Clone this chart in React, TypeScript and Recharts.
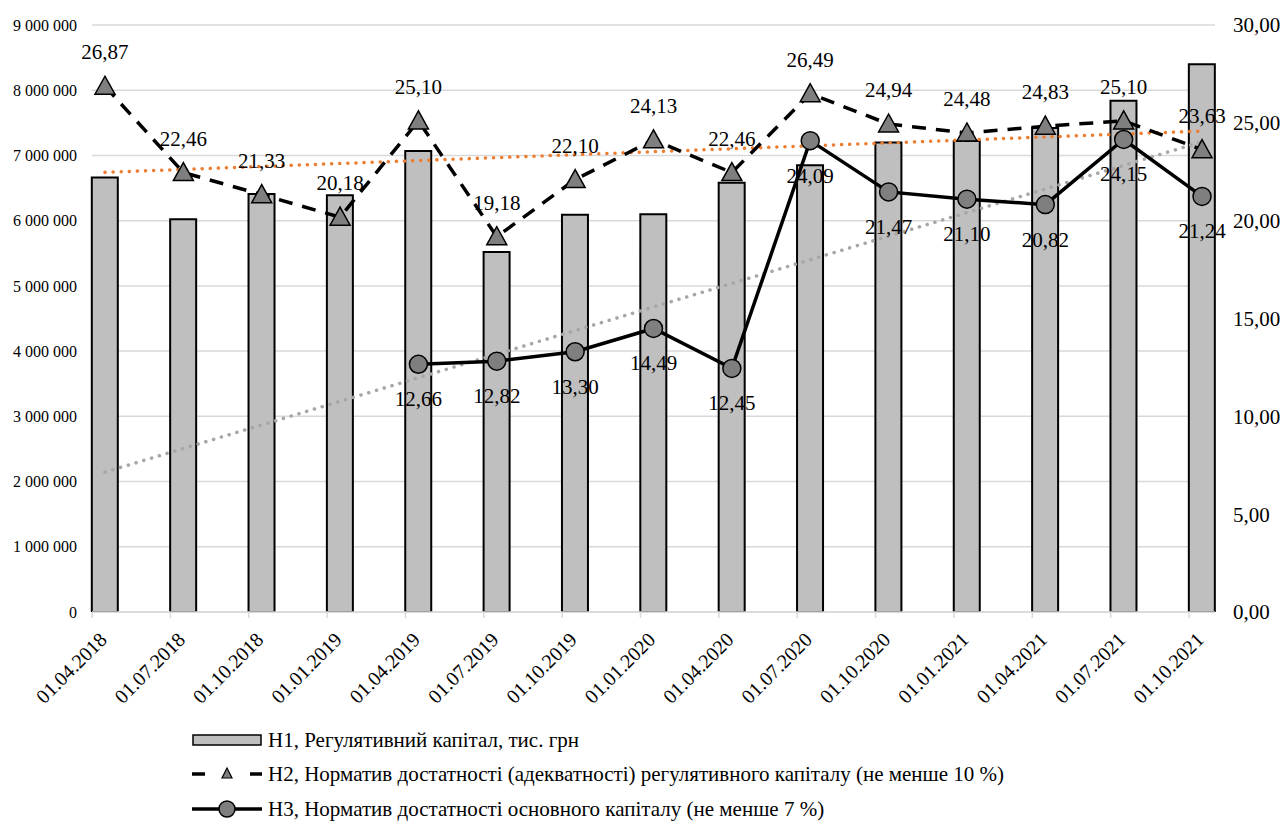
import React from "react";
import {
  ComposedChart, Bar, Line, XAxis, YAxis, CartesianGrid, Legend, LabelList,
} from "recharts";

const FONT = "'Times New Roman', Times, 'Liberation Serif', Tinos, 'Noto Serif', 'DejaVu Serif', FreeSerif, serif";

// quarters
const dates = [
  "01.04.2018", "01.07.2018", "01.10.2018", "01.01.2019", "01.04.2019",
  "01.07.2019", "01.10.2019", "01.01.2020", "01.04.2020", "01.07.2020",
  "01.10.2020", "01.01.2021", "01.04.2021", "01.07.2021", "01.10.2021",
];

// Н1, regulatory capital (thousand UAH)
const h1 = [
  6660000, 6020000, 6410000, 6390000, 7070000,
  5520000, 6090000, 6100000, 6580000, 6850000,
  7200000, 7220000, 7420000, 7840000, 8400000,
];

// Н2, %
const h2 = [
  26.87, 22.46, 21.33, 20.18, 25.10,
  19.18, 22.10, 24.13, 22.46, 26.49,
  24.94, 24.48, 24.83, 25.10, 23.63,
];

// Н3, % (no values before 01.04.2019)
const h3: (number | null)[] = [
  null, null, null, null, 12.66,
  12.82, 13.30, 14.49, 12.45, 24.09,
  21.47, 21.10, 20.82, 24.15, 21.24,
];

// trend lines, end points
const h2Trend: (number | null)[] = [22.47, null, null, null, null, null, null, null, null, null, null, null, null, null, 24.58];
const h3Trend: (number | null)[] = [7.15, null, null, null, null, null, null, null, null, null, null, null, null, null, 24.03];

const leftTicks = [0, 1000000, 2000000, 3000000, 4000000, 5000000, 6000000, 7000000, 8000000, 9000000];
const rightTicks = [0, 5, 10, 15, 20, 25, 30];

const data = dates.map((d, i) => ({
  date: d,
  h1: h1[i],
  h2: h2[i],
  h3: h3[i],
  h2Trend: h2Trend[i],
  h3Trend: h3Trend[i],
}));

const fmtSpace = (n: number) => String(n).replace(/\B(?=(\d{3})+(?!\d))/g, " ");
const fmtComma = (n: number) => n.toFixed(2).replace(".", ",");

const GREY = "#7F7F7F";

function DateTick({ x, y, payload }: any) {
  return (
    <g>
      <line x1={x - 13} x2={x - 13} y1={y} y2={y + 6} stroke="#D9D9D9" strokeWidth={1.5} />
      <text
        x={x + 3}
        y={y + 29}
        textAnchor="end"
        transform={`rotate(-45, ${x + 3}, ${y + 29})`}
        style={{ fontFamily: FONT }}
        fontSize={20}
        fill="#000"
      >
        {payload.value}
      </text>
    </g>
  );
}

function TriangleDot(p: any) {
  if (p.cx == null || p.cy == null || p.value == null) return <g key={p.index} />;
  const { cx, cy } = p;
  return (
    <polygon
      key={p.index}
      points={`${cx},${cy - 10} ${cx - 10},${cy + 8} ${cx + 10},${cy + 8}`}
      fill={GREY}
      stroke="#000"
      strokeWidth={1.5}
    />
  );
}

function CircleDot(p: any) {
  if (p.cx == null || p.cy == null || p.value == null) return <g key={p.index} />;
  return <circle key={p.index} cx={p.cx} cy={p.cy} r={9} fill={GREY} stroke="#000" strokeWidth={1.5} />;
}

function AboveLabel({ x, y, value }: any) {
  if (value == null) return null;
  return (
    <text x={x} y={y - 34} textAnchor="middle" dominantBaseline="central" style={{ fontFamily: FONT }} fontSize={21} fill="#000">
      {fmtComma(value)}
    </text>
  );
}

function BelowLabel({ x, y, value }: any) {
  if (value == null) return null;
  return (
    <text x={x} y={y + 35} textAnchor="middle" dominantBaseline="central" style={{ fontFamily: FONT }} fontSize={21} fill="#000">
      {fmtComma(value)}
    </text>
  );
}

function LegendBox() {
  const row = (top: number, symbol: React.ReactNode, label: string) => (
    <div style={{ position: "absolute", left: 192, top: top - 17, height: 34, display: "flex", alignItems: "center" }}>
      <svg width={70} height={34} style={{ display: "block" }}>{symbol}</svg>
      <span style={{ marginLeft: 6, whiteSpace: "nowrap" }}>{label}</span>
    </div>
  );
  return (
    <div style={{ position: "relative", height: 104, width: 1284, fontFamily: FONT, fontSize: 21, color: "#000" }}>
      {row(20, <rect x={1} y={12} width={68} height={10} fill="#BFBFBF" stroke="#000" strokeWidth={1.5} />,
        "Н1, Регулятивний капітал, тис. грн")}
      {row(54, (
        <g>
          <line x1={0} x2={13} y1={17} y2={17} stroke="#000" strokeWidth={3.5} />
          <polygon points="35,11 30,21 40,21" fill={GREY} stroke="#000" strokeWidth={1.2} />
          <line x1={58} x2={70} y1={17} y2={17} stroke="#000" strokeWidth={3.5} />
        </g>
      ), "Н2, Норматив достатності (адекватності) регулятивного капіталу (не менше 10 %)")}
      {row(89, (
        <g>
          <line x1={0} x2={70} y1={17} y2={17} stroke="#000" strokeWidth={3.5} />
          <circle cx={35} cy={17} r={8} fill={GREY} stroke="#000" strokeWidth={1.5} />
        </g>
      ), "Н3, Норматив достатності основного капіталу (не менше 7 %)")}
    </div>
  );
}

export default function App() {
  return (
    <div style={{ position: "absolute", left: 0, top: 0, background: "#fff", fontFamily: FONT }}>
      <ComposedChart width={1284} height={824} data={data} margin={{ top: 25, right: 0, bottom: 0, left: 0 }} style={{ fontFamily: FONT }}>
        <CartesianGrid yAxisId="left" vertical={false} stroke="#D9D9D9" strokeWidth={1.5} />
        <XAxis
          dataKey="date"
          height={108}
          padding={{ left: -26.2, right: -26.2 }}
          tick={<DateTick />}
          tickLine={false}
          tickSize={0}
          tickMargin={0}
          axisLine={{ stroke: "#D9D9D9", strokeWidth: 1.5 }}
          interval={0}
        />
        <YAxis
          yAxisId="left"
          width={92}
          domain={[0, 9000000]}
          ticks={leftTicks}
          tickFormatter={fmtSpace}
          axisLine={false}
          tickLine={false}
          tickSize={0}
          tickMargin={15}
          tick={{ fontSize: 16, fill: "#000", style: { fontFamily: FONT } }}
          allowDataOverflow
        />
        <YAxis
          yAxisId="right"
          orientation="right"
          width={69}
          domain={[0, 30]}
          ticks={rightTicks}
          tickFormatter={(v: number) => fmtComma(v)}
          axisLine={false}
          tickLine={false}
          tickSize={0}
          tickMargin={18}
          tick={{ fontSize: 21, fill: "#000", textAnchor: "start", style: { fontFamily: FONT } }}
          allowDataOverflow
        />
        <Legend
          verticalAlign="bottom"
          content={() => <LegendBox />}
          wrapperStyle={{ left: 0, bottom: 0, width: 1284, height: 104 }}
        />
        <Bar yAxisId="left" dataKey="h1" barSize={26} fill="#BFBFBF" stroke="#000" strokeWidth={2} isAnimationActive={false} />
        <Line
          yAxisId="right"
          dataKey="h2Trend"
          connectNulls
          stroke="#ED7D31"
          strokeWidth={3.5}
          strokeDasharray="0.1 8"
          strokeLinecap="round"
          dot={false}
          activeDot={false}
          isAnimationActive={false}
        />
        <Line
          yAxisId="right"
          dataKey="h3Trend"
          connectNulls
          stroke="#A6A6A6"
          strokeWidth={3.5}
          strokeDasharray="0.1 8"
          strokeLinecap="round"
          dot={false}
          activeDot={false}
          isAnimationActive={false}
        />
        <Line
          yAxisId="right"
          dataKey="h2"
          stroke="#000"
          strokeWidth={3.5}
          strokeDasharray="14 10"
          dot={TriangleDot}
          activeDot={false}
          isAnimationActive={false}
        >
          <LabelList dataKey="h2" content={AboveLabel} />
        </Line>
        <Line
          yAxisId="right"
          dataKey="h3"
          stroke="#000"
          strokeWidth={3.5}
          dot={CircleDot}
          activeDot={false}
          isAnimationActive={false}
        >
          <LabelList dataKey="h3" content={BelowLabel} />
        </Line>
      </ComposedChart>
    </div>
  );
}
